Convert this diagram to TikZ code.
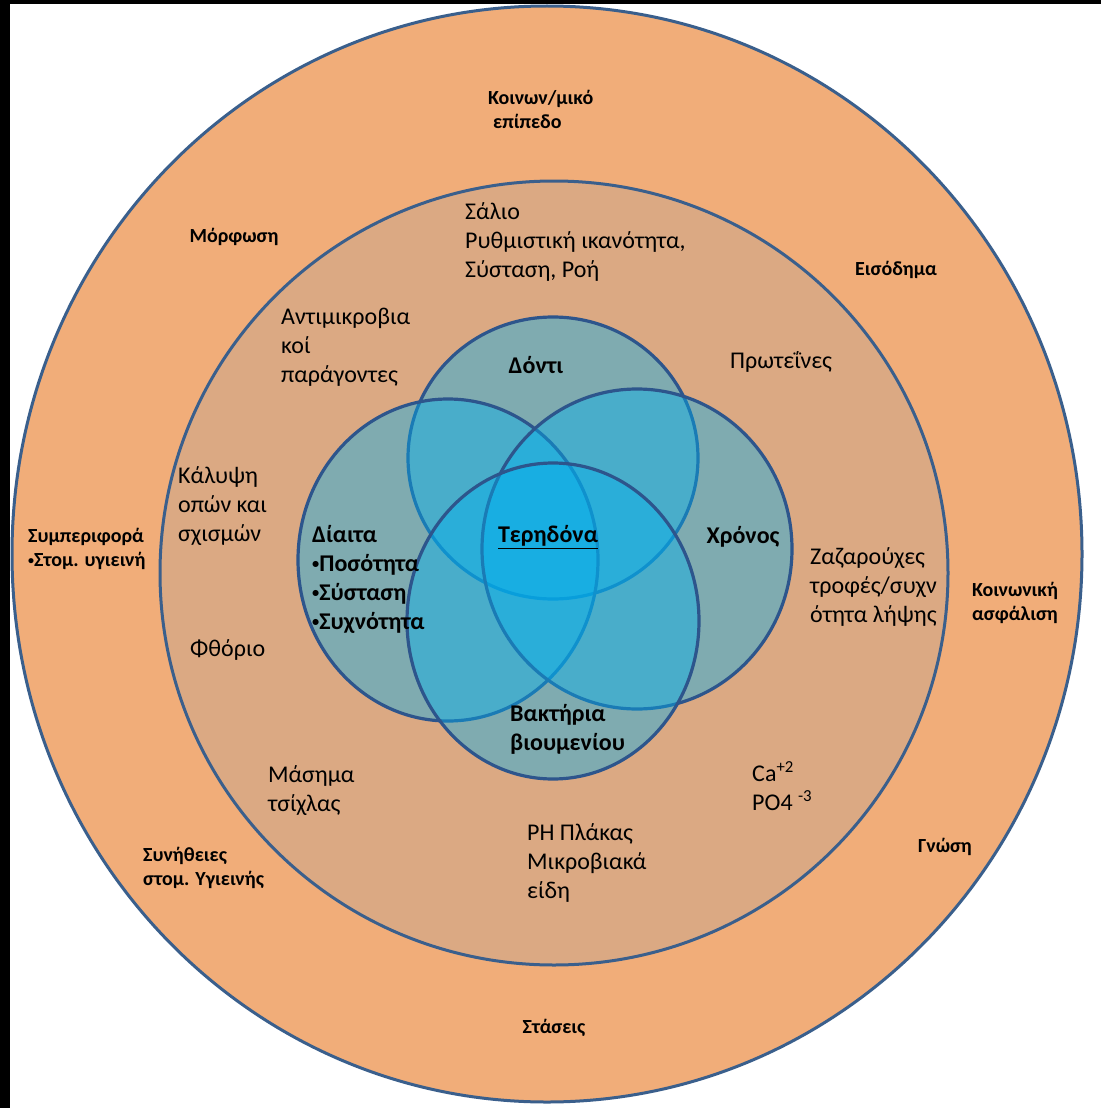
\documentclass[tikz,border=0pt]{standalone}
\usepackage{fontspec}
\setmainfont{Carlito}
\definecolor{ringout}{RGB}{241,173,121}
\definecolor{ringmid}{RGB}{219,169,131}
\definecolor{ringline}{RGB}{58,95,140}
\definecolor{vennblue}{RGB}{0,176,240}
\definecolor{vennline}{RGB}{45,85,140}
\newcommand{\dotmark}{\raisebox{0.25ex}{\scalebox{0.6}{•}}}
\begin{document}
\begin{tikzpicture}[x=1pt, y=-1pt,
  ring/.style={line width=3pt, draw=ringline},
  venn/.style={line width=3.2pt, draw=vennline, fill=vennblue, fill opacity=0.42},
  outer label/.style={font=\fontsize{20}{24}\selectfont\bfseries, align=left, inner sep=0pt},
  mid label/.style={font=\fontsize{24}{29}\selectfont, align=left, inner sep=0pt},
  venn label/.style={font=\fontsize{24}{29}\selectfont\bfseries, align=left, inner sep=0pt}]
\useasboundingbox (0,0) rectangle (1101,1108);
\fill[white] (0,0) rectangle (1101,1108);
\fill[black] (0,0) rectangle (1101,4);
\fill[black] (0,0) rectangle (10,1108);
% rings
\filldraw[ring, fill=ringout] (547,554) ellipse [x radius=535pt, y radius=548pt];
\filldraw[ring, fill=ringmid] (554,573) ellipse [x radius=394pt, y radius=392pt];
% venn
\filldraw[venn] (553,458) ellipse [x radius=145pt, y radius=141pt];
\filldraw[venn] (448,560) ellipse [x radius=150pt, y radius=161pt];
\filldraw[venn] (637,549) ellipse [x radius=155pt, y radius=160pt];
\filldraw[venn] (553,621) ellipse [x radius=146pt, y radius=158pt];
\begin{scope}[every node/.style={outer label}]
\node[anchor=west] (society) at (488,109) {Κοινων/μικό\\\hspace{5pt}επίπεδο};
\node (education) at (234,237) {Μόρφωση};
\node (income) at (896,270) {Εισόδημα};
\node[anchor=west] (behaviour) at (28,549) {Συμπεριφορά\\\dotmark Στομ. υγιεινή};
\node[align=center] (insurance) at (1015,603) {Κοινωνική\\ασφάλιση};
\node (knowledge) at (945,847) {Γνώση};
\node[anchor=west] (habits) at (143,868) {Συνήθειες\\στομ. Υγιεινής};
\node (attitudes) at (554,1028) {Στάσεις};
\end{scope}
\begin{scope}[every node/.style={mid label, anchor=west}]
\node (saliva) at (465,242) {Σάλιο\\Ρυθμιστική ικανότητα,\\Σύσταση, Ροή};
\node (antimicro) at (281,347) {Αντιμικροβια\\κοί\\παράγοντες};
\node (proteins) at (730,362) {Πρωτεΐνες};
\node (sealants) at (178,506) {Κάλυψη\\οπών και\\σχισμών};
\node (fluoride) at (190,650) {Φθόριο};
\node (sugar) at (810,587) {Ζαζαρούχες\\τροφές/συχν\\ότητα λήψης};
\node (gum) at (268,791) {Μάσημα\\τσίχλας};
\node (ions) at (752,786) {Ca\textsuperscript{+2}\\PO4 \textsuperscript{-3}};
\node (plaque) at (527,863) {PH Πλάκας\\Μικροβιακά\\είδη};
\end{scope}
\begin{scope}[every node/.style={venn label}]
\node (tooth) at (536,365) {Δόντι};
\node[anchor=west] (diet) at (312,579) {Δίαιτα\\\dotmark Ποσότητα\\\dotmark Σύσταση\\\dotmark Συχνότητα};
\node (caries) at (548,537) {\underline{Τερηδόνα}};
\node (time) at (743,537) {Χρόνος};
\node[anchor=west] (biofilm) at (510,729) {Βακτήρια\\βιουμενίου};
\end{scope}
\end{tikzpicture}
\end{document}
